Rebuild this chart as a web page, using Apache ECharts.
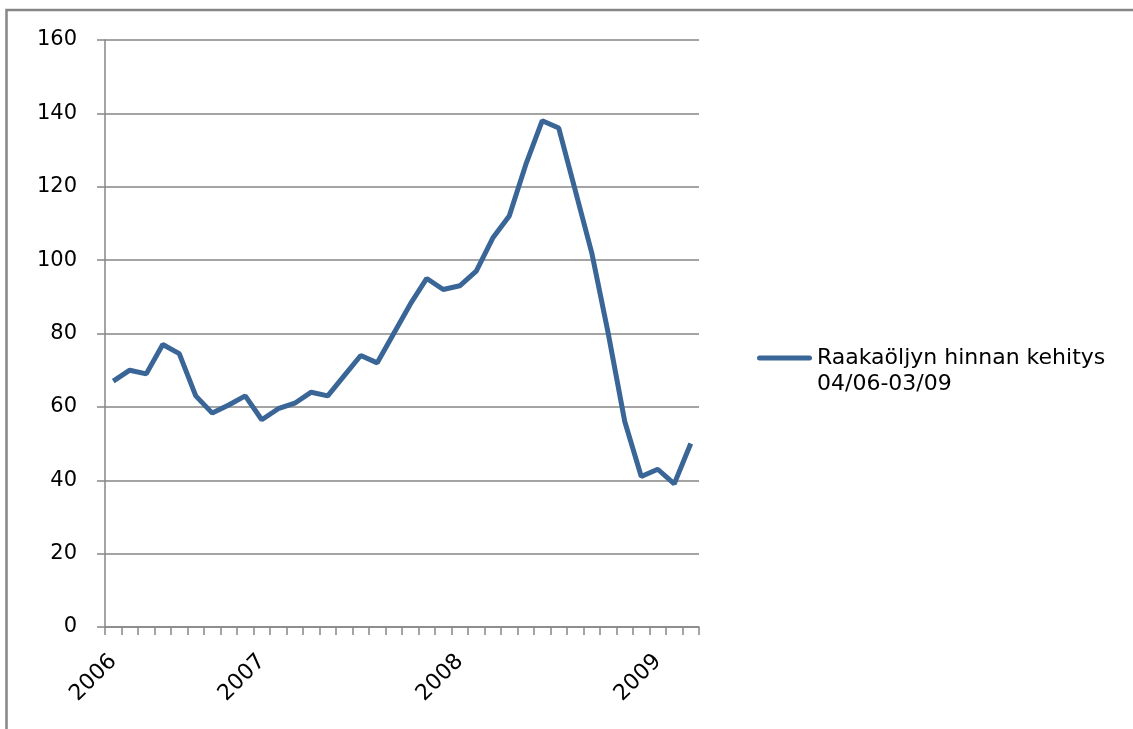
<!DOCTYPE html>
<html>
<head>
<meta charset="utf-8">
<script src="https://cdn.jsdelivr.net/npm/echarts@6/dist/echarts.min.js"></script>
<style>
  html, body { margin: 0; padding: 0; background: #fff; }
  #chart { width: 1133px; height: 729px; }
</style>
</head>
<body>
<div id="chart"></div>
<script>
// months 04/06 .. 03/09
const months = [
  '04/06', '05/06', '06/06', '07/06', '08/06', '09/06', '10/06', '11/06', '12/06',
  '01/07', '02/07', '03/07', '04/07', '05/07', '06/07', '07/07', '08/07', '09/07', '10/07', '11/07', '12/07',
  '01/08', '02/08', '03/08', '04/08', '05/08', '06/08', '07/08', '08/08', '09/08', '10/08', '11/08', '12/08',
  '01/09', '02/09', '03/09'
]
const prices = [
  67, 70, 69, 77, 74.5, 63, 58.3, 60.5, 63,
  56.5, 59.5, 61, 64, 63, 68.5, 74, 72, 80, 88, 95, 92,
  93, 97, 106, 112, 126, 138, 136, 119, 102, 80, 56, 41,
  43, 39, 50
]
const seriesName = 'Raakaöljyn hinnan kehitys\n04/06-03/09'
const yTicks = { min: 0, max: 160, interval: 20 }

const font = 'DejaVu Sans'
const grey = '#868686'
const blue = '#3A6597'

const chart = echarts.init(document.getElementById('chart'))
const option = {
  animation: false,
  backgroundColor: '#fff',
  graphic: [
    {
      type: 'rect',
      shape: { x: 6.5, y: 10, width: 1140, height: 730 },
      style: { fill: 'none', stroke: grey, lineWidth: 2.5 }
    }
  ],
  legend: {
    left: 757,
    top: 345,
    padding: 0,
    itemWidth: 55,
    itemHeight: 52,
    itemGap: 5,
    // bar sits on the first text line; the extra points keep the box 55x52
    data: [{ name: seriesName, icon: 'path://M0,0L0,0M0,52L0,52M2.5,10.5L52.5,10.5A2.5,2.5,0,0,1,52.5,15.5L2.5,15.5A2.5,2.5,0,0,1,2.5,10.5Z' }],
    textStyle: {
      fontFamily: font,
      fontSize: 22,
      color: '#000',
      lineHeight: 26
    }
  },
  grid: {
    left: 105,
    right: 434,
    top: 40,
    bottom: 102,
    containLabel: false
  },
  xAxis: {
    type: 'category',
    data: months,
    boundaryGap: true,
    axisLine: { lineStyle: { color: grey, width: 1.5 } },
    axisTick: { show: true, interval: 0, length: 8, lineStyle: { color: grey, width: 1.5 } },
    axisLabel: {
      interval: 0,
      rotate: 45,
      margin: 31,
      fontFamily: font,
      fontSize: 22,
      color: '#000',
      formatter: (val, idx) => {
        const [m, y] = val.split('/')
        return (idx === 0 || m === '01') ? '20' + y : ''
      }
    },
    splitLine: { show: false }
  },
  yAxis: {
    type: 'value',
    min: yTicks.min,
    max: yTicks.max,
    interval: yTicks.interval,
    axisLine: { show: true, lineStyle: { color: grey, width: 1.5 } },
    axisTick: { show: true, length: 8, lineStyle: { color: grey, width: 1.5 } },
    axisLabel: {
      margin: 28,
      fontFamily: font,
      fontSize: 21,
      color: '#000'
    },
    splitLine: { show: true, lineStyle: { color: grey, width: 1.5 } }
  },
  series: [
    {
      name: seriesName,
      type: 'line',
      data: prices,
      symbol: 'none',
      showSymbol: false,
      lineStyle: { color: blue, width: 5 },
      itemStyle: { color: blue }
    }
  ]
}
chart.setOption(option)
</script>
</body>
</html>
